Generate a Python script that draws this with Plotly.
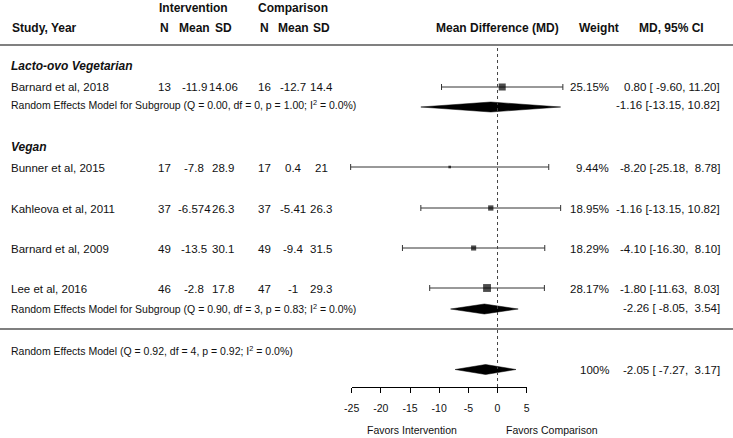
import plotly.graph_objects as go

# ---------------- data ----------------
studies = ["Barnard et al, 2018", "Bunner et al, 2015", "Kahleova et al, 2011",
           "Barnard et al, 2009", "Lee et al, 2016"]
subgroup_names = ["Lacto-ovo Vegetarian", "Vegan"]
int_n = [13, 17, 37, 49, 46]
int_mean = [-11.9, -7.8, -6.574, -13.5, -2.8]
int_sd = [14.06, 28.9, 26.3, 30.1, 17.8]
cmp_n = [16, 17, 37, 49, 47]
cmp_mean = [-12.7, 0.4, -5.41, -9.4, -1]
cmp_sd = [14.4, 21, 26.3, 31.5, 29.3]
md = [0.80, -8.20, -1.16, -4.10, -1.80]
ci_lo = [-9.60, -25.18, -13.15, -16.30, -11.63]
ci_hi = [11.20, 8.78, 10.82, 8.10, 8.03]
weights = [25.15, 9.44, 18.95, 18.29, 28.17]

sub_md = [-1.16, -2.26]
sub_lo = [-13.15, -8.05]
sub_hi = [10.82, 3.54]
sub_q = [0.00, 0.90]
sub_df = [0, 3]
sub_p = [1.00, 0.83]
sub_i2 = [0.0, 0.0]

all_md, all_lo, all_hi = -2.05, -7.27, 3.17
all_q, all_df, all_p, all_i2 = 0.92, 4, 0.92, 0.0
all_weight_label = "100%"

tick_vals = [-25, -20, -15, -10, -5, 0, 5]
tick_labels = ["-25", "-20", "-15", "-10", "-5", "0", "5"]

# ---------------- layout constants (pixels) ----------------
W, H = 733, 438
AX_L, AX_R = 351.7, 526.7           # pixel span of the plotted axis range
AX_Y = 387
scale = (AX_R - AX_L) / (tick_vals[-1] - tick_vals[0])
main_range = [tick_vals[0] - AX_L / scale, tick_vals[0] + (W - AX_L) / scale]

FONT = "Liberation Sans, Arial, sans-serif"
row_text_y = [87, 168, 209, 249, 289]
row_mark_y = [87, 167, 208, 248, 288]
sub_head_y = [66, 147]
sub_text_y = [105, 308]
sub_mark_y = [107, 309]
all_text_y = 350
all_mark_y = 369.5

NB = "\u00a0"


def g(v):
    return f"{v:g}"


def ci_str(m, lo, hi):
    return f"{m:.2f} [{lo:6.2f}, {hi:5.2f}]".replace(" ", NB)


ann = []


def txt(x, y, s, size=11, anchor="left", color="#111"):
    ann.append(dict(x=x / W, y=1 - y / H, xref="paper", yref="paper", text=s,
                    showarrow=False, xanchor=anchor, yanchor="middle",
                    font=dict(family=FONT, size=size, color=color)))


# headers
txt(193, 8, "<b>Intervention</b>", 12, "center")
txt(293, 8, "<b>Comparison</b>", 12, "center")
txt(10, 28, "<b>Study, Year</b>", 12)
for x, s in [(164, "N"), (194, "Mean"), (223, "SD"), (264, "N"), (293, "Mean"), (321, "SD")]:
    txt(x, 28, f"<b>{s}</b>", 12, "center")
txt(497.5, 28, "<b>Mean Difference (MD)</b>", 12, "center")
txt(599, 28, "<b>Weight</b>", 12, "center")
txt(671, 28, "<b>MD, 95% CI</b>", 12, "center")

for k, name in enumerate(subgroup_names):
    txt(9, sub_head_y[k], f"<b><i>{name}</i></b>", 12)
    txt(9, sub_text_y[k],
        f"Random Effects Model for Subgroup (Q = {sub_q[k]:.2f}, df = {sub_df[k]}, "
        f"p = {sub_p[k]:.2f}; I<sup>2</sup> = {sub_i2[k]:.1f}%)", 10.5)
    txt(722, sub_text_y[k], ci_str(sub_md[k], sub_lo[k], sub_hi[k]), 11.5, "right")

for i, s in enumerate(studies):
    y = row_text_y[i]
    txt(9, y, s, 11.5)
    txt(164, y, g(int_n[i]), 11.5, "center")
    txt(194, y, g(int_mean[i]), 11.5, "center")
    txt(223, y, g(int_sd[i]), 11.5, "center")
    txt(264, y, g(cmp_n[i]), 11.5, "center")
    txt(293, y, g(cmp_mean[i]), 11.5, "center")
    txt(321, y, g(cmp_sd[i]), 11.5, "center")
    txt(611, y, f"{weights[i]:.2f}%", 11.5, "right")
    txt(722, y, ci_str(md[i], ci_lo[i], ci_hi[i]), 11.5, "right")

txt(9, all_text_y,
    f"Random Effects Model (Q = {all_q:.2f}, df = {all_df}, p = {all_p:.2f}; "
    f"I<sup>2</sup> = {all_i2:.1f}%)", 10.5)
txt(611, all_mark_y, all_weight_label, 11.5, "right")
txt(722, all_mark_y, ci_str(all_md, all_lo, all_hi), 11.5, "right")

txt(412, 430, "Favors Intervention", 10.5, "center")
txt(552, 430, "Favors Comparison", 10.5, "center")

fig = go.Figure()

# study estimates with CIs
fig.add_trace(go.Scatter(
    x=md, y=row_mark_y, mode="markers",
    marker=dict(symbol="square", color="black", size=[w * 0.28 for w in weights],
                line=dict(width=0)),
    error_x=dict(type="data", symmetric=False,
                 array=[h - m for h, m in zip(ci_hi, md)],
                 arrayminus=[m - l for m, l in zip(md, ci_lo)],
                 color="#333", thickness=1, width=3),
    hoverinfo="skip", showlegend=False, xaxis="x", yaxis="y"))


def diamond(m, lo, hi, yc, h):
    fig.add_trace(go.Scatter(
        x=[lo, m, hi, m, lo], y=[yc, yc - h / 2, yc, yc + h / 2, yc],
        mode="lines", fill="toself", fillcolor="black",
        line=dict(color="black", width=0.5), hoverinfo="skip", showlegend=False,
        xaxis="x", yaxis="y"))


for k in range(len(sub_md)):
    diamond(sub_md[k], sub_lo[k], sub_hi[k], sub_mark_y[k], 10)
diamond(all_md, all_lo, all_hi, all_mark_y, 10)

# dummy trace to activate the visible axis
fig.add_trace(go.Scatter(x=[tick_vals[0], tick_vals[-1]], y=[-50, -50], mode="markers",
                         marker=dict(opacity=0), hoverinfo="skip", showlegend=False,
                         xaxis="x2", yaxis="y"))

shapes = [
    dict(type="line", xref="paper", yref="y", x0=0, x1=1, y0=45, y1=45,
         line=dict(color="#808080", width=2)),
    dict(type="line", xref="paper", yref="y", x0=0, x1=1, y0=329, y1=329,
         line=dict(color="#555", width=1.5)),
    dict(type="line", xref="x", yref="y", x0=0, x1=0, y0=48, y1=AX_Y,
         line=dict(color="#444", width=1, dash="dot")),
]

fig.update_layout(
    width=W, height=H, margin=dict(l=0, r=0, t=0, b=0, pad=0, autoexpand=False),
    autosize=False,
    paper_bgcolor="white", plot_bgcolor="rgba(0,0,0,0)",
    xaxis=dict(range=main_range, visible=False, fixedrange=True, automargin=False),
    xaxis2=dict(domain=[AX_L / W, AX_R / W], range=[tick_vals[0], tick_vals[-1]],
                anchor="free", position=1 - AX_Y / H, side="bottom",
                showline=True, linecolor="black", linewidth=1,
                ticks="outside", ticklen=5, tickcolor="black", tickwidth=1,
                tickvals=tick_vals, ticktext=tick_labels, ticklabelstandoff=6,
                tickfont=dict(family=FONT, size=10.5, color="#111"),
                showgrid=False, zeroline=False, fixedrange=True, automargin=False),
    yaxis=dict(range=[H, 0], visible=False, fixedrange=True, automargin=False),
    shapes=shapes, annotations=ann, showlegend=False,
)

fig.write_html("out.html",
               config=dict(displayModeBar=False, responsive=False, staticPlot=True),
               post_script="document.body.style.margin='0';document.body.style.overflow='hidden';")
